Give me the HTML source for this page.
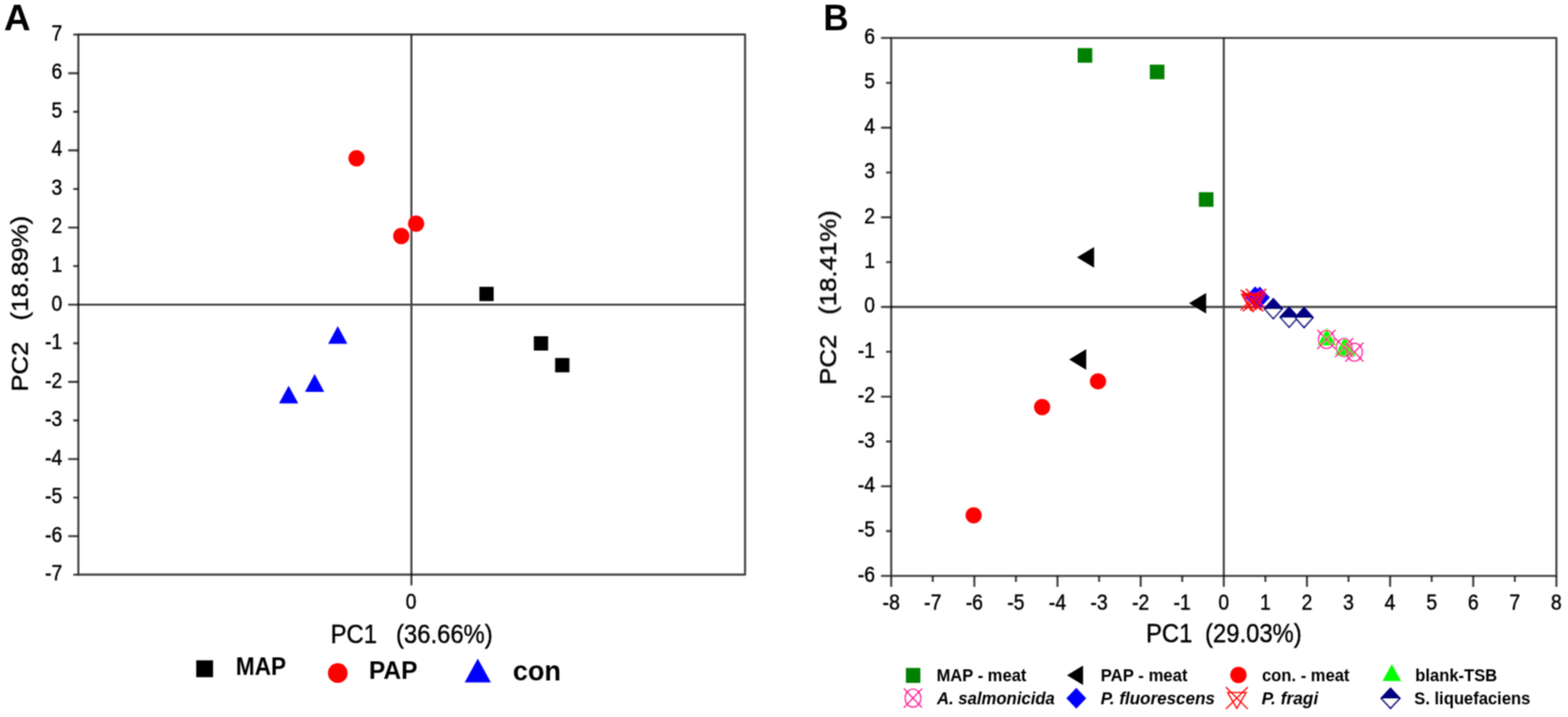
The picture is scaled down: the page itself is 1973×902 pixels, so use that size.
<!DOCTYPE html>
<html lang="en">
<head>
<meta charset="utf-8">
<title>PCA score plots</title>
<style>
html,body{margin:0;padding:0;background:#fff;}
body{width:1973px;height:902px;overflow:hidden;}
svg{display:block;}
svg text{font-family:"Liberation Sans", sans-serif;fill:#000;}
</style>
</head>
<body>
<svg width="1973" height="902" viewBox="0 0 1973 902">
<defs><filter id="soft" x="0" y="0" width="100%" height="100%" filterUnits="userSpaceOnUse"><feConvolveMatrix order="3" kernelMatrix="1 2 1 2 4 2 1 2 1" divisor="16" edgeMode="duplicate" preserveAlpha="false"/></filter></defs>
<rect width="1973" height="902" fill="#fff"/>
<g id="fig" filter="url(#soft)">
<g stroke="#000" stroke-opacity="0.74" stroke-width="2.6" stroke-linejoin="round" fill="none">
<rect x="98.6" y="43.4" width="838.90" height="679.50"/>
<path d="M98.6,383.3H937.5M517.7,43.4V736.5"/>
<path d="M92.20,723.05H98.6M85.80,674.51H98.6M92.20,625.98H98.6M85.80,577.44H98.6M92.20,528.91H98.6M85.80,480.37H98.6M92.20,431.84H98.6M85.80,383.30H98.6M92.20,334.76H98.6M85.80,286.23H98.6M92.20,237.69H98.6M85.80,189.16H98.6M92.20,140.62H98.6M85.80,92.09H98.6M92.20,43.55H98.6"/>
</g>
<text transform="translate(78.40,730.25) scale(0.9100,1)" font-size="26.8" text-anchor="end" stroke="#000" stroke-width="0.5">-7</text>
<text transform="translate(78.40,681.71) scale(0.9100,1)" font-size="26.8" text-anchor="end" stroke="#000" stroke-width="0.5">-6</text>
<text transform="translate(78.40,633.18) scale(0.9100,1)" font-size="26.8" text-anchor="end" stroke="#000" stroke-width="0.5">-5</text>
<text transform="translate(78.40,584.64) scale(0.9100,1)" font-size="26.8" text-anchor="end" stroke="#000" stroke-width="0.5">-4</text>
<text transform="translate(78.40,536.11) scale(0.9100,1)" font-size="26.8" text-anchor="end" stroke="#000" stroke-width="0.5">-3</text>
<text transform="translate(78.40,487.57) scale(0.9100,1)" font-size="26.8" text-anchor="end" stroke="#000" stroke-width="0.5">-2</text>
<text transform="translate(78.40,439.04) scale(0.9100,1)" font-size="26.8" text-anchor="end" stroke="#000" stroke-width="0.5">-1</text>
<text transform="translate(78.40,390.50) scale(0.9100,1)" font-size="26.8" text-anchor="end" stroke="#000" stroke-width="0.5">0</text>
<text transform="translate(78.40,341.96) scale(0.9100,1)" font-size="26.8" text-anchor="end" stroke="#000" stroke-width="0.5">1</text>
<text transform="translate(78.40,293.43) scale(0.9100,1)" font-size="26.8" text-anchor="end" stroke="#000" stroke-width="0.5">2</text>
<text transform="translate(78.40,244.89) scale(0.9100,1)" font-size="26.8" text-anchor="end" stroke="#000" stroke-width="0.5">3</text>
<text transform="translate(78.40,196.36) scale(0.9100,1)" font-size="26.8" text-anchor="end" stroke="#000" stroke-width="0.5">4</text>
<text transform="translate(78.40,147.82) scale(0.9100,1)" font-size="26.8" text-anchor="end" stroke="#000" stroke-width="0.5">5</text>
<text transform="translate(78.40,99.29) scale(0.9100,1)" font-size="26.8" text-anchor="end" stroke="#000" stroke-width="0.5">6</text>
<text transform="translate(78.40,50.75) scale(0.9100,1)" font-size="26.8" text-anchor="end" stroke="#000" stroke-width="0.5">7</text>
<text transform="translate(517.30,766.00) scale(0.9100,1)" font-size="26.8" text-anchor="middle" stroke="#000" stroke-width="0.5">0</text>
<circle cx="448.60" cy="199.10" r="10.30" fill="#ff0000"/>
<circle cx="523.60" cy="281.40" r="10.30" fill="#ff0000"/>
<circle cx="504.90" cy="296.90" r="10.30" fill="#ff0000"/>
<rect x="603.20" y="360.80" width="18.00" height="18.00" fill="#000"/>
<rect x="671.70" y="423.00" width="18.00" height="18.00" fill="#000"/>
<rect x="698.50" y="450.40" width="18.00" height="18.00" fill="#000"/>
<polygon points="425.00,410.30 412.90,432.60 437.10,432.60" fill="#0000ff"/>
<polygon points="395.90,470.60 383.80,492.90 408.00,492.90" fill="#0000ff"/>
<polygon points="363.20,485.30 351.10,507.60 375.30,507.60" fill="#0000ff"/>
<text transform="translate(416.00,808.90) scale(0.8820,1)" font-size="34.0" stroke="#000" stroke-width="0.5">PC1 <tspan dx="17.77">(36.66%)</tspan></text>
<text transform="translate(34.80,492.80) rotate(-90) scale(1.0680,1)" font-size="30.4" stroke="#000" stroke-width="0.5">PC2 <tspan dx="16.37">(18.89%)</tspan></text>
<rect x="246.90" y="830.70" width="21.20" height="21.20" fill="#000"/>
<text transform="translate(296.80,849.40) scale(0.9050,1)" font-size="31.4" font-weight="bold">MAP</text>
<circle cx="425.00" cy="846.70" r="12.40" fill="#ff0000"/>
<text transform="translate(464.20,853.60)" font-size="30.8" font-weight="bold">PAP</text>
<polygon points="601.20,828.40 584.70,858.60 617.70,858.60" fill="#0000ff"/>
<text transform="translate(645.20,855.90)" font-size="34.2" font-weight="bold">con</text>
<text transform="translate(5.00,38.00) scale(1.0200,1)" font-size="45.5" font-weight="bold">A</text>
<g stroke="#000" stroke-opacity="0.74" stroke-width="2.6" stroke-linejoin="round" fill="none">
<rect x="1121.4" y="47.8" width="837.00" height="676.70"/>
<path d="M1121.4,386.15H1958.4M1539.90,47.8V724.5"/>
<path d="M1108.60,724.50H1121.4M1115.00,668.11H1121.4M1108.60,611.72H1121.4M1115.00,555.33H1121.4M1108.60,498.93H1121.4M1115.00,442.54H1121.4M1108.60,386.15H1121.4M1115.00,329.76H1121.4M1108.60,273.37H1121.4M1115.00,216.98H1121.4M1108.60,160.58H1121.4M1115.00,104.19H1121.4M1108.60,47.80H1121.4M1121.40,724.5V738.30M1173.71,724.5V731.90M1226.03,724.5V738.30M1278.34,724.5V731.90M1330.65,724.5V738.30M1382.96,724.5V731.90M1435.28,724.5V738.30M1487.59,724.5V731.90M1539.90,724.5V738.30M1592.21,724.5V731.90M1644.53,724.5V738.30M1696.84,724.5V731.90M1749.15,724.5V738.30M1801.46,724.5V731.90M1853.78,724.5V738.30M1906.09,724.5V731.90M1958.40,724.5V738.30"/>
</g>
<text transform="translate(1101.00,731.70) scale(0.9100,1)" font-size="26.8" text-anchor="end" stroke="#000" stroke-width="0.5">-6</text>
<text transform="translate(1101.00,675.31) scale(0.9100,1)" font-size="26.8" text-anchor="end" stroke="#000" stroke-width="0.5">-5</text>
<text transform="translate(1101.00,618.92) scale(0.9100,1)" font-size="26.8" text-anchor="end" stroke="#000" stroke-width="0.5">-4</text>
<text transform="translate(1101.00,562.53) scale(0.9100,1)" font-size="26.8" text-anchor="end" stroke="#000" stroke-width="0.5">-3</text>
<text transform="translate(1101.00,506.13) scale(0.9100,1)" font-size="26.8" text-anchor="end" stroke="#000" stroke-width="0.5">-2</text>
<text transform="translate(1101.00,449.74) scale(0.9100,1)" font-size="26.8" text-anchor="end" stroke="#000" stroke-width="0.5">-1</text>
<text transform="translate(1101.00,393.35) scale(0.9100,1)" font-size="26.8" text-anchor="end" stroke="#000" stroke-width="0.5">0</text>
<text transform="translate(1101.00,336.96) scale(0.9100,1)" font-size="26.8" text-anchor="end" stroke="#000" stroke-width="0.5">1</text>
<text transform="translate(1101.00,280.57) scale(0.9100,1)" font-size="26.8" text-anchor="end" stroke="#000" stroke-width="0.5">2</text>
<text transform="translate(1101.00,224.18) scale(0.9100,1)" font-size="26.8" text-anchor="end" stroke="#000" stroke-width="0.5">3</text>
<text transform="translate(1101.00,167.78) scale(0.9100,1)" font-size="26.8" text-anchor="end" stroke="#000" stroke-width="0.5">4</text>
<text transform="translate(1101.00,111.39) scale(0.9100,1)" font-size="26.8" text-anchor="end" stroke="#000" stroke-width="0.5">5</text>
<text transform="translate(1101.00,55.00) scale(0.9100,1)" font-size="26.8" text-anchor="end" stroke="#000" stroke-width="0.5">6</text>
<text transform="translate(1121.40,767.40) scale(0.9100,1)" font-size="26.8" text-anchor="middle" stroke="#000" stroke-width="0.5">-8</text>
<text transform="translate(1173.71,767.40) scale(0.9100,1)" font-size="26.8" text-anchor="middle" stroke="#000" stroke-width="0.5">-7</text>
<text transform="translate(1226.03,767.40) scale(0.9100,1)" font-size="26.8" text-anchor="middle" stroke="#000" stroke-width="0.5">-6</text>
<text transform="translate(1278.34,767.40) scale(0.9100,1)" font-size="26.8" text-anchor="middle" stroke="#000" stroke-width="0.5">-5</text>
<text transform="translate(1330.65,767.40) scale(0.9100,1)" font-size="26.8" text-anchor="middle" stroke="#000" stroke-width="0.5">-4</text>
<text transform="translate(1382.96,767.40) scale(0.9100,1)" font-size="26.8" text-anchor="middle" stroke="#000" stroke-width="0.5">-3</text>
<text transform="translate(1435.28,767.40) scale(0.9100,1)" font-size="26.8" text-anchor="middle" stroke="#000" stroke-width="0.5">-2</text>
<text transform="translate(1487.59,767.40) scale(0.9100,1)" font-size="26.8" text-anchor="middle" stroke="#000" stroke-width="0.5">-1</text>
<text transform="translate(1539.90,767.40) scale(0.9100,1)" font-size="26.8" text-anchor="middle" stroke="#000" stroke-width="0.5">0</text>
<text transform="translate(1592.21,767.40) scale(0.9100,1)" font-size="26.8" text-anchor="middle" stroke="#000" stroke-width="0.5">1</text>
<text transform="translate(1644.53,767.40) scale(0.9100,1)" font-size="26.8" text-anchor="middle" stroke="#000" stroke-width="0.5">2</text>
<text transform="translate(1696.84,767.40) scale(0.9100,1)" font-size="26.8" text-anchor="middle" stroke="#000" stroke-width="0.5">3</text>
<text transform="translate(1749.15,767.40) scale(0.9100,1)" font-size="26.8" text-anchor="middle" stroke="#000" stroke-width="0.5">4</text>
<text transform="translate(1801.46,767.40) scale(0.9100,1)" font-size="26.8" text-anchor="middle" stroke="#000" stroke-width="0.5">5</text>
<text transform="translate(1853.78,767.40) scale(0.9100,1)" font-size="26.8" text-anchor="middle" stroke="#000" stroke-width="0.5">6</text>
<text transform="translate(1906.09,767.40) scale(0.9100,1)" font-size="26.8" text-anchor="middle" stroke="#000" stroke-width="0.5">7</text>
<text transform="translate(1958.40,767.40) scale(0.9100,1)" font-size="26.8" text-anchor="middle" stroke="#000" stroke-width="0.5">8</text>
<rect x="1356.00" y="60.50" width="18.40" height="18.40" fill="#008000"/>
<rect x="1446.80" y="81.30" width="18.40" height="18.40" fill="#008000"/>
<rect x="1508.50" y="241.80" width="18.40" height="18.40" fill="#008000"/>
<polygon points="1355.20,323.80 1376.70,310.80 1376.70,336.80" fill="#000"/>
<polygon points="1496.20,381.50 1517.70,368.50 1517.70,394.50" fill="#000"/>
<polygon points="1345.30,452.20 1366.80,439.20 1366.80,465.20" fill="#000"/>
<circle cx="1381.60" cy="479.80" r="10.30" fill="#ff0000"/>
<circle cx="1311.30" cy="512.10" r="10.30" fill="#ff0000"/>
<circle cx="1225.10" cy="648.30" r="10.30" fill="#ff0000"/>
<polygon points="1579.40,360.20 1592.10,373.80 1579.40,387.40 1566.70,373.80" fill="#0000ff"/>
<polygon points="1585.20,360.60 1597.90,374.20 1585.20,387.80 1572.50,374.20" fill="#0000ff"/>
<g stroke="#ff0000" stroke-width="1.6" fill="none"><path d="M1561.10,364.60L1586.70,390.20M1586.70,364.60L1561.10,390.20"/><polygon points="1562.30,370.40 1585.50,370.40 1573.90,390.40"/></g>
<g stroke="#ff0000" stroke-width="1.6" fill="none"><path d="M1564.00,366.00L1589.60,391.60M1589.60,366.00L1564.00,391.60"/><polygon points="1565.20,371.80 1588.40,371.80 1576.80,391.80"/></g>
<g stroke="#ff0000" stroke-width="1.6" fill="none"><path d="M1567.60,363.40L1593.20,389.00M1593.20,363.40L1567.60,389.00"/><polygon points="1568.80,369.20 1592.00,369.20 1580.40,389.20"/></g>
<polygon points="1602.20,375.80 1613.40,388.30 1602.20,400.80 1591.00,388.30" fill="#fff" stroke="#000080" stroke-width="1.9"/>
<polygon points="1602.20,375.80 1613.40,388.30 1591.00,388.30" fill="#000080" stroke="#000080" stroke-width="1.2"/>
<polygon points="1622.10,386.60 1633.30,399.10 1622.10,411.60 1610.90,399.10" fill="#fff" stroke="#000080" stroke-width="1.9"/>
<polygon points="1622.10,386.60 1633.30,399.10 1610.90,399.10" fill="#000080" stroke="#000080" stroke-width="1.2"/>
<polygon points="1640.90,387.00 1652.10,399.50 1640.90,412.00 1629.70,399.50" fill="#fff" stroke="#000080" stroke-width="1.9"/>
<polygon points="1640.90,387.00 1652.10,399.50 1629.70,399.50" fill="#000080" stroke="#000080" stroke-width="1.2"/>
<polygon points="1669.50,412.60 1657.85,434.60 1681.15,434.60" fill="#00ff00"/>
<polygon points="1691.60,424.30 1679.95,446.30 1703.25,446.30" fill="#00ff00"/>
<polygon points="1694.60,425.80 1682.95,447.80 1706.25,447.80" fill="#00ff00"/>
<g stroke="#ff1493" fill="none"><ellipse cx="1669.00" cy="427.00" rx="9.9" ry="11.3" stroke-width="1.35"/><path stroke-width="1.55" d="M1657.60,415.00L1680.40,439.00M1680.40,415.00L1657.60,439.00"/></g>
<g stroke="#ff1493" fill="none"><ellipse cx="1691.30" cy="437.30" rx="9.9" ry="11.3" stroke-width="1.35"/><path stroke-width="1.55" d="M1679.90,425.30L1702.70,449.30M1702.70,425.30L1679.90,449.30"/></g>
<g stroke="#ff1493" fill="none"><ellipse cx="1704.30" cy="443.00" rx="9.9" ry="11.3" stroke-width="1.35"/><path stroke-width="1.55" d="M1692.90,431.00L1715.70,455.00M1715.70,431.00L1692.90,455.00"/></g>
<text transform="translate(1442.00,808.40) scale(0.8820,1)" font-size="34.0" stroke="#000" stroke-width="0.5">PC1 <tspan dx="8.70">(29.03%)</tspan></text>
<text transform="translate(1052.00,484.20) rotate(-90) scale(1.0680,1)" font-size="30.4" stroke="#000" stroke-width="0.5">PC2 <tspan dx="14.96">(18.41%)</tspan></text>
<text transform="translate(1036.00,37.70) scale(0.9650,1)" font-size="45.5" font-weight="bold">B</text>
<rect x="1139.90" y="840.30" width="18.20" height="18.80" fill="#008000"/>
<text transform="translate(1178.40,857.20) scale(0.9350,1)" font-size="22.3" font-weight="bold">MAP - meat</text>
<polygon points="1342.60,849.50 1362.80,837.20 1362.80,861.80" fill="#000"/>
<text transform="translate(1385.00,857.20) scale(0.9462,1)" font-size="22.3" font-weight="bold">PAP - meat</text>
<circle cx="1558.30" cy="849.20" r="10.40" fill="#ff0000"/>
<text transform="translate(1588.00,857.20) scale(0.9350,1)" font-size="22.3" font-weight="bold">con. - meat</text>
<polygon points="1751.30,835.60 1739.60,856.80 1763.00,856.80" fill="#00ff00"/>
<text transform="translate(1780.80,857.20) scale(0.9350,1)" font-size="22.3" font-weight="bold">blank-TSB</text>
<g stroke="#ff1493" fill="none"><ellipse cx="1148.80" cy="878.20" rx="9.9" ry="11.3" stroke-width="1.35"/><path stroke-width="1.55" d="M1137.40,866.20L1160.20,890.20M1160.20,866.20L1137.40,890.20"/></g>
<text transform="translate(1179.00,886.20) scale(0.9425,1)" font-size="22.3" font-weight="bold" font-style="italic">A. salmonicida</text>
<polygon points="1354.30,865.30 1366.80,878.40 1354.30,891.50 1341.80,878.40" fill="#0000ff"/>
<text transform="translate(1385.00,886.20) scale(0.9612,1)" font-size="22.3" font-weight="bold" font-style="italic">P. fluorescens</text>
<g stroke="#ff0000" stroke-width="1.6" fill="none"><path d="M1542.50,864.40L1570.10,892.00M1570.10,864.40L1542.50,892.00"/><polygon points="1544.70,871.20 1567.90,871.20 1556.30,891.20"/></g>
<text transform="translate(1587.60,886.20) scale(0.9780,1)" font-size="22.3" font-weight="bold" font-style="italic">P. fragi</text>
<polygon points="1749.70,865.80 1761.40,878.40 1749.70,891.00 1738.00,878.40" fill="#fff" stroke="#000080" stroke-width="1.9"/>
<polygon points="1749.70,865.80 1761.40,878.40 1738.00,878.40" fill="#000080" stroke="#000080" stroke-width="1.2"/>
<text transform="translate(1779.60,886.20) scale(0.9350,1)" font-size="22.3" font-weight="bold">S. liquefaciens</text>
</g>
</svg>
</body>
</html>
